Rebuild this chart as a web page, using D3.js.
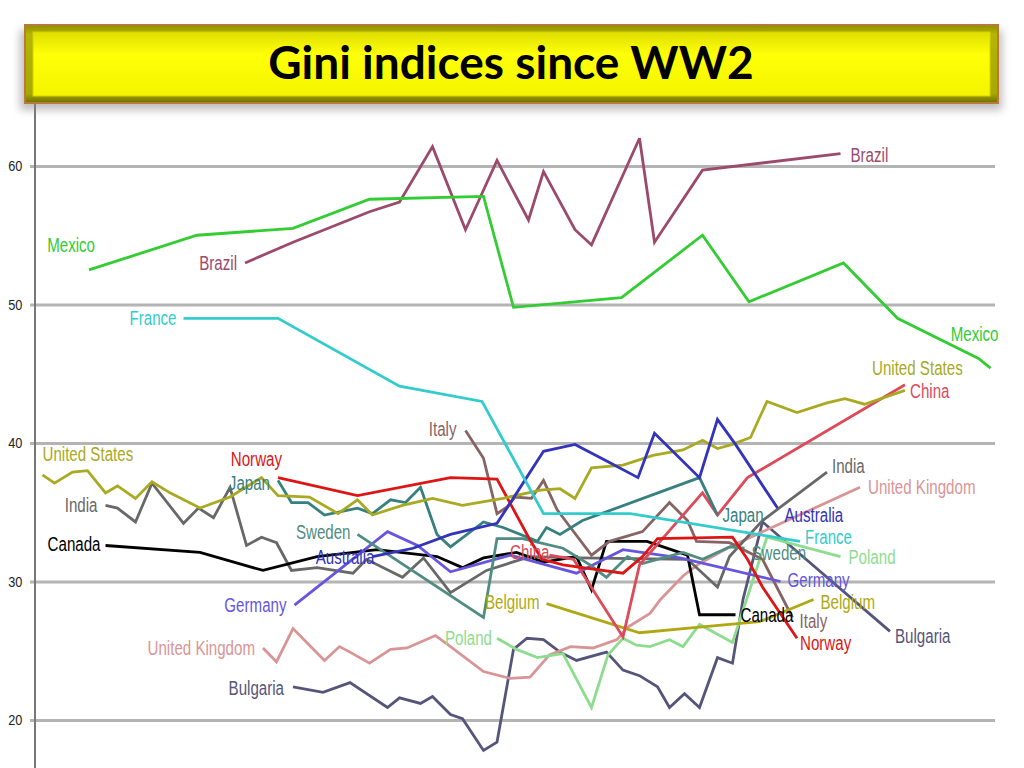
<!DOCTYPE html>
<html>
<head>
<meta charset="utf-8">
<script src="https://cdn.jsdelivr.net/npm/d3@7"></script>
<style>
  body { margin: 0; background: #fff; }
  svg { display: block; }
</style>
</head>
<body>
<script>
// chart values: [year, gini index]
const mexico = [[1948.6, 52.5], [1955.8, 55.0], [1962.2, 55.5], [1967.3, 57.6], [1974.9, 57.8], [1976.9, 49.8],
    [1984.1, 50.5], [1989.5, 55.0], [1992.6, 50.2], [1998.9, 53.0], [2002.5, 49.0], [2007.9, 46.1], [2008.7, 45.4]];
const brazil = [[1959.0, 53.0], [1962.2, 54.5], [1967.3, 56.7], [1969.3, 57.4], [1971.5, 61.4], [1973.7, 55.4],
    [1975.8, 60.4], [1977.9, 56.1], [1978.9, 59.6], [1981.0, 55.4], [1982.1, 54.3], [1985.3, 62.0], [1986.3, 54.5],
    [1989.5, 59.7], [1998.7, 60.9]];
const france = [[1954.9, 49.0], [1961.2, 49.0], [1969.3, 44.1], [1974.8, 43.0], [1978.9, 34.9], [1984.7, 34.9], [1996.0, 32.9]];
const unitedStates = [[1945.5, 37.7], [1946.3, 37.1], [1947.5, 37.9], [1948.5, 38.0], [1949.7, 36.4], [1950.5, 36.9],
    [1951.7, 36.0], [1952.8, 37.2], [1954.0, 36.4], [1956.0, 35.3], [1958.0, 36.1], [1960.1, 37.5], [1961.2, 36.2],
    [1963.3, 36.1], [1965.2, 34.9], [1966.5, 35.9], [1967.5, 34.8], [1969.5, 35.5], [1971.5, 36.0], [1973.5, 35.5],
    [1976.2, 36.0], [1978.7, 36.6], [1980.0, 36.7], [1981.0, 36.0], [1982.1, 38.2], [1984.2, 38.4], [1986.2, 39.1],
    [1988.2, 39.5], [1989.5, 40.2], [1990.5, 39.6], [1991.5, 39.9], [1992.7, 40.4], [1993.8, 43.0], [1995.8, 42.2],
    [1997.8, 42.9], [1999.0, 43.2], [2000.3, 42.8], [2003.0, 43.8]];
const india = [[1949.7, 35.5], [1950.5, 35.3], [1951.7, 34.3], [1952.8, 37.1], [1954.9, 34.2], [1955.9, 35.3],
    [1956.9, 34.6], [1958.0, 36.8], [1959.1, 32.6], [1960.1, 33.2], [1961.1, 32.8], [1962.1, 30.8], [1963.8, 31.0],
    [1966.2, 30.6], [1967.1, 31.6], [1969.5, 30.3], [1970.9, 31.7], [1972.7, 29.2], [1975.1, 30.8], [1978.0, 31.8],
    [1981.3, 31.7], [1988.5, 31.6], [1990.5, 29.6], [1991.3, 31.8], [1993.5, 34.4], [1997.8, 37.9]];
const italy = [[1973.7, 40.9], [1974.9, 38.9], [1975.8, 34.9], [1976.5, 35.4], [1977.0, 36.1], [1978.1, 36.0],
    [1978.9, 37.3], [1979.8, 35.2], [1980.7, 33.9], [1982.1, 31.9], [1983.3, 32.9], [1985.5, 33.6], [1987.3, 35.7],
    [1988.5, 34.4], [1989.1, 32.9], [1991.3, 32.8], [1993.5, 31.6], [1995.5, 27.4]];
const canada = [[1949.7, 32.6], [1956.0, 32.1], [1960.2, 30.8], [1963.8, 31.8], [1967.8, 32.3], [1971.8, 31.8],
    [1973.5, 31.0], [1974.9, 31.7], [1977.1, 32.1], [1978.9, 31.4], [1981.1, 31.8], [1982.1, 29.4], [1983.1, 32.9],
    [1985.8, 32.9], [1988.5, 31.9], [1989.3, 27.6], [1991.7, 27.6]];
const norway = [[1961.2, 37.5], [1966.5, 36.2], [1972.7, 37.5], [1975.8, 37.4], [1978.0, 33.0], [1978.8, 31.6],
    [1980.2, 31.2], [1984.2, 30.6], [1985.5, 31.8], [1986.5, 33.1], [1991.5, 33.2], [1992.5, 31.6], [1993.5, 29.6],
    [1995.8, 25.9]];
const japan = [[1961.2, 37.3], [1962.1, 35.7], [1963.2, 35.7], [1964.3, 34.8], [1966.5, 35.3], [1967.5, 34.9],
    [1968.7, 35.9], [1969.7, 35.7], [1970.7, 36.8], [1971.8, 33.4], [1972.7, 32.5], [1974.9, 34.3], [1976.2, 33.9],
    [1978.5, 32.9], [1979.1, 33.9], [1980.0, 33.4], [1981.5, 34.4], [1989.3, 37.5], [1990.5, 34.8]];
const sweden = [[1966.5, 33.4], [1974.9, 27.4], [1975.8, 33.1], [1977.5, 33.1], [1980.2, 32.4], [1982.0, 31.2],
    [1983.1, 30.3], [1984.5, 31.8], [1985.5, 31.3], [1988.2, 32.1], [1989.5, 31.6], [1991.3, 32.5], [1992.3, 32.4]];
const australia = [[1967.5, 31.8], [1970.2, 32.4], [1972.7, 33.4], [1975.8, 34.2], [1977.0, 36.2], [1978.9, 39.4],
    [1981.0, 39.9], [1983.3, 38.6], [1985.2, 37.5], [1986.3, 40.7], [1989.3, 37.5], [1990.5, 41.7], [1991.7, 39.9],
    [1994.5, 35.3]];
const germany = [[1962.3, 28.3], [1968.5, 33.6], [1970.5, 32.6], [1972.7, 30.7], [1976.7, 31.9], [1981.1, 30.6],
    [1984.2, 32.3], [1988.0, 31.7], [1994.7, 30.0]];
const china = [[1979.3, 31.9], [1980.9, 31.6], [1984.2, 26.0], [1985.3, 31.2], [1989.5, 36.4], [1990.5, 34.8],
    [1992.5, 37.5], [2003.0, 44.2]];
const poland = [[1975.8, 25.9], [1977.1, 25.1], [1978.5, 24.5], [1980.2, 24.8], [1982.1, 20.9], [1983.2, 24.7],
    [1984.2, 25.9], [1985.1, 25.4], [1986.0, 25.3], [1987.3, 25.8], [1988.2, 25.3], [1989.3, 26.9], [1991.5, 25.6],
    [1993.8, 33.2], [1998.7, 31.8]];
const unitedKingdom = [[1960.2, 25.2], [1961.1, 24.2], [1962.2, 26.6], [1964.3, 24.3], [1965.3, 25.3], [1966.0, 24.9],
    [1967.3, 24.1], [1968.7, 25.1], [1969.8, 25.2], [1971.7, 26.1], [1972.7, 25.3], [1974.9, 23.5], [1976.7, 23.0],
    [1978.0, 23.1], [1979.3, 24.7], [1980.7, 25.3], [1982.2, 25.2], [1983.8, 25.8], [1984.5, 26.7], [1986.0, 27.7],
    [1986.7, 28.7], [1988.2, 30.4], [1989.3, 31.3], [1991.5, 32.6], [2000.0, 36.8]];
const bulgaria = [[1962.2, 22.4], [1964.2, 22.0], [1966.0, 22.7], [1968.5, 20.9], [1969.3, 21.6], [1970.7, 21.2],
    [1971.5, 21.7], [1972.7, 20.4], [1973.5, 20.1], [1974.9, 17.8], [1975.8, 18.4], [1976.9, 25.1], [1977.8, 25.9],
    [1978.9, 25.8], [1980.0, 24.9], [1981.1, 24.3], [1983.1, 24.9], [1984.2, 23.6], [1985.3, 23.2], [1986.5, 22.4],
    [1987.3, 20.9], [1988.3, 21.9], [1989.3, 20.9], [1990.5, 24.5], [1991.5, 24.1], [1992.2, 28.7], [1993.5, 34.3],
    [2002.0, 26.4]];
const belgium = [[1979.1, 28.4], [1985.3, 26.3], [1989.3, 26.7], [1993.3, 27.1], [1996.9, 28.7]];

const yTicks = [20, 30, 40, 50, 60];
const titleText = "Gini indices since WW2";

const svgData = {
    width: 1024,
    height: 768,
    left: 35,
    right: 995,
    lineWidth: 2.8,
    labelSize: 21,
    labelStretch: 0.72
};

// drawing order, colour and where the start / end labels sit
const series = [
    { name: "Brazil", data: brazil, color: "#9c4a6c", start: [-8, 7, "end"], end: [10, 8, "start"] },
    { name: "Mexico", data: mexico, color: "#33cc33", start: [6, -18, "end"], end: [8, -27, "end"] },
    { name: "Bulgaria", data: bulgaria, color: "#55557a", start: [-9, 8, "end"], end: [5, 12, "start"] },
    { name: "United Kingdom", data: unitedKingdom, color: "#d99595", start: [-8, 7, "end"], end: [8, 7, "start"] },
    { name: "Poland", data: poland, color: "#8edc8e", start: [-5, 7, "end"], end: [8, 7, "start"] },
    { name: "India", data: india, color: "#686868", start: [-8, 7, "end"], end: [5, 1, "start"] },
    { name: "Canada", data: canada, color: "#000000", start: [-5, 6, "end"], end: [5, 7, "start"] },
    { name: "Italy", data: italy, color: "#876464", start: [-9, 5, "end"], end: [7, 10, "start"] },
    { name: "Germany", data: germany, color: "#6655dd", start: [-8, 7, "end"], end: [7, 5, "start"] },
    { name: "Sweden", data: sweden, color: "#4f8c82", start: [-7, 5, "end"], end: [7, 12, "start"] },
    { name: "Belgium", data: belgium, color: "#b0a812", start: [-7, 5, "end"], end: [7, 9, "start"] },
    { name: "China", data: china, color: "#dd4a5a", start: [0, 4, "end"], end: [5, 13, "start"] },
    { name: "Japan", data: japan, color: "#36817f", start: [-8, 10, "end"], end: [5, 7, "start"] },
    { name: "Norway", data: norway, color: "#dd1515", start: [4, -12, "end"], end: [3, 12, "start"] },
    { name: "United States", data: unitedStates, color: "#a9a922", start: [0, -14, "start"], end: [-33, -15, "start"] },
    { name: "Australia", data: australia, color: "#3333bb", start: [2, 7, "end"], end: [7, 14, "start"] },
    { name: "France", data: france, color: "#33cccc", start: [-7, 7, "end"], end: [5, 3, "start"] }
];

const getSVG = () => {
    return d3.select("body").append("svg")
        .attr("width", svgData.width)
        .attr("height", svgData.height);
}

const svg = getSVG();

const scaleX = d3.scaleLinear()
    .domain([1945, 2009])
    .range([svgData.left, svgData.right]);
const scaleY = d3.scaleLinear()
    .domain([20, 60])
    .range([720, 166]);

const defs = svg.append("defs");
const bevel = defs.append("linearGradient").attr("id", "bevel").attr("x1", 0).attr("x2", 0).attr("y1", 0).attr("y2", 1);
bevel.append("stop").attr("offset", "0%").attr("stop-color", "#8f8f00");
bevel.append("stop").attr("offset", "12%").attr("stop-color", "#b5b500");
bevel.append("stop").attr("offset", "88%").attr("stop-color", "#a8a800");
bevel.append("stop").attr("offset", "100%").attr("stop-color", "#6e6e00");
const face = defs.append("linearGradient").attr("id", "face").attr("x1", 0).attr("x2", 0).attr("y1", 0).attr("y2", 1);
face.append("stop").attr("offset", "0%").attr("stop-color", "#dede00");
face.append("stop").attr("offset", "35%").attr("stop-color", "#ffff08");
face.append("stop").attr("offset", "100%").attr("stop-color", "#f4f400");
defs.append("filter").attr("id", "blur").attr("x", "-5%").attr("y", "-20%").attr("width", "110%").attr("height", "150%")
    .append("feGaussianBlur").attr("stdDeviation", 4);

// y grid + tick labels
const yAxis = d3.axisLeft(scaleY)
    .tickValues(yTicks)
    .tickSize(-(svgData.right - 30))
    .tickPadding(8);
const gAxis = svg.append("g")
    .attr("transform", "translate(30,0)")
    .call(yAxis);
gAxis.select(".domain").remove();
gAxis.selectAll(".tick line")
    .attr("stroke", "#b4b4b4")
    .attr("stroke-width", 3);
gAxis.selectAll(".tick text")
    .attr("fill", "#222")
    .style("font-family", "'Liberation Sans', Arial, sans-serif")
    .style("font-size", "15px")
    .attr("transform", "scale(0.85,1)")
    .attr("x", -9);

svg.append("line")
    .attr("x1", svgData.left).attr("x2", svgData.left)
    .attr("y1", 100).attr("y2", svgData.height)
    .attr("stroke", "#777")
    .attr("stroke-width", 2);

const line = d3.line()
    .x(d => scaleX(d[0]))
    .y(d => scaleY(d[1]));

svg.append("g").selectAll("path")
    .data(series)
    .enter()
    .append("path")
    .attr("d", d => line(d.data))
    .attr("fill", "none")
    .attr("stroke", d => d.color)
    .attr("stroke-width", svgData.lineWidth)
    .attr("stroke-linejoin", "miter")
    .attr("stroke-miterlimit", 3);

// labels at both ends of every line
const labels = [];
series.forEach(s => {
    const first = s.data[0];
    const last = s.data[s.data.length - 1];
    labels.push({ name: s.name, color: s.color, x: scaleX(first[0]) + s.start[0], y: scaleY(first[1]) + s.start[1], anchor: s.start[2] });
    labels.push({ name: s.name, color: s.color, x: scaleX(last[0]) + s.end[0], y: scaleY(last[1]) + s.end[1], anchor: s.end[2] });
});

svg.append("g").selectAll("text")
    .data(labels)
    .enter()
    .append("text")
    .attr("transform", d => "translate(" + d.x + "," + d.y + ") scale(" + svgData.labelStretch + ",1)")
    .attr("text-anchor", d => d.anchor)
    .attr("fill", d => d.color)
    .style("font-family", "'Liberation Sans', Arial, sans-serif")
    .style("font-size", svgData.labelSize + "px")
    .text(d => d.name);

// title banner
const banner = svg.append("g");
banner.append("rect")
    .attr("x", 20).attr("y", 30).attr("width", 982).attr("height", 80)
    .attr("fill", "#888").attr("opacity", 0.55)
    .attr("filter", "url(#blur)");
banner.append("rect")
    .attr("x", 25).attr("y", 25).attr("width", 973).attr("height", 78)
    .attr("fill", "url(#bevel)")
    .attr("stroke", "#b87a3c").attr("stroke-width", 2);
banner.append("rect")
    .attr("x", 33).attr("y", 32).attr("width", 957).attr("height", 64)
    .attr("fill", "url(#face)")
    .attr("stroke", "#d4d400").attr("stroke-width", 1);
banner.append("text")
    .attr("x", 511).attr("y", 79)
    .attr("text-anchor", "middle")
    .attr("fill", "#000")
    .style("font-family", "Lato, 'Open Sans', sans-serif")
    .style("font-weight", "bold")
    .style("font-size", "46px")
    .text(titleText);
</script>
</body>
</html>
